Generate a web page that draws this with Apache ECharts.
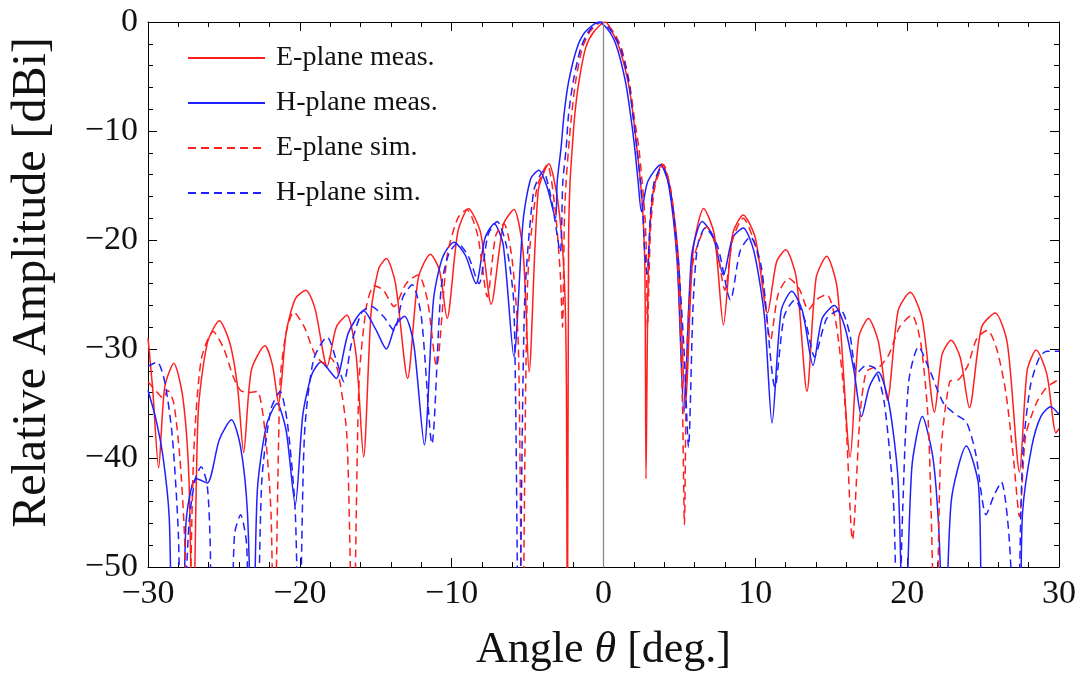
<!DOCTYPE html>
<html>
<head>
<meta charset="utf-8">
<title>E/H-plane radiation patterns</title>
<script src="https://cdn.jsdelivr.net/npm/echarts@6/dist/echarts.min.js"></script>
<style>
  html, body { margin: 0; padding: 0; background: #fff; }
  #chart { width: 1081px; height: 677px; }
</style>
</head>
<body>
<div id="chart"></div>
<script>
// Radiation pattern cuts: [angle in degrees, relative amplitude in dB].
// Values below -50 dB mark nulls that fall off the bottom of the frame.
const eMeas = [
  [-30, -29.0], [-29.7, -33.5], [-29.3, -40.9], [-28.9, -33.5], [-28.3, -31.3],
  [-27.7, -34.5], [-27.3, -42], [-27.05, -60], [-26.7, -36], [-26.1, -29.5],
  [-25.3, -27.4], [-24.6, -29.5], [-24.1, -33.5], [-23.7, -39.5], [-23.2, -32],
  [-22.3, -29.7], [-21.8, -31.5], [-21.4, -35], [-20.9, -28.5], [-20.3, -25.4],
  [-19.6, -24.6], [-19.0, -26.3], [-18.2, -31.6], [-17.6, -28], [-16.9, -26.9],
  [-16.3, -30.5], [-15.8, -39.9], [-15.3, -26.5], [-14.8, -22.6], [-14.3, -21.7],
  [-13.7, -24], [-12.9, -32.7], [-12.2, -23.5], [-11.4, -21.3], [-10.8, -22.8],
  [-10.3, -27.2], [-9.6, -19.3], [-8.9, -17.1], [-8.1, -19.3], [-7.4, -25.9],
  [-6.6, -18.6], [-5.9, -17.2], [-5.3, -21], [-4.9, -32.1], [-4.3, -15.5],
  [-3.6, -13.0], [-3.0, -16.5], [-2.6, -23], [-2.45, -32], [-2.38, -60],
  [-2.3, -20], [-2.2, -14.6], [-2.06, -11.6], [-1.89, -8.5], [-1.62, -5.5],
  [-1.18, -2.4], [-0.64, -0.9], [0.13, 0], [0.57, -0.9], [1.05, -2.4],
  [1.62, -5.5], [1.95, -8.5], [2.2, -11.6], [2.43, -14.6], [2.6, -17.7],
  [2.73, -23], [2.8, -41.9], [2.95, -23], [3.25, -15.8], [3.86, -13.0],
  [4.4, -15.3], [4.95, -22], [5.4, -35.3], [5.9, -21], [6.6, -17.1],
  [7.3, -19.5], [7.9, -27.8], [8.5, -19.5], [9.2, -17.7], [10.0, -19.8],
  [10.8, -26.7], [11.4, -22], [12.0, -20.9], [12.7, -23.5], [13.4, -33.9],
  [14.0, -23.5], [14.7, -21.5], [15.4, -24.5], [16.25, -39.9], [16.8, -29],
  [17.45, -27.2], [18.1, -29.3], [18.7, -34.7], [19.4, -26.5], [20.2, -24.8],
  [21.0, -27.3], [21.8, -35.8], [22.3, -30.5], [22.9, -29.2], [23.5, -30.8],
  [24.1, -35.4], [24.9, -28], [25.8, -26.7], [26.6, -29.5], [27.4, -41.3],
  [27.9, -32], [28.5, -30.1], [29.2, -32.3], [29.8, -37.7], [30, -37.3]
];

const hMeas = [
  [-30, -33.8], [-29.5, -36.3], [-29.0, -40], [-28.6, -45.5], [-28.3, -60],
  [-27.8, -60], [-27.5, -46], [-27.1, -42.5], [-26.8, -41.9], [-26.1, -42.3],
  [-25.3, -38.3], [-24.5, -36.5], [-23.9, -39], [-23.45, -45], [-23.1, -60],
  [-22.8, -43], [-22.2, -37], [-21.5, -35.0], [-20.9, -37.5], [-20.3, -44.3],
  [-19.8, -36], [-19.2, -32.3], [-18.6, -31.2], [-18.1, -31.9], [-17.6, -32.7],
  [-16.8, -28.5], [-15.8, -26.5], [-15.0, -28.2], [-14.3, -30.0], [-13.7, -27.8],
  [-13.1, -27.0], [-12.5, -29.5], [-11.8, -38.8], [-11.2, -25.5], [-10.6, -21.6],
  [-9.85, -20.2], [-9.1, -21.4], [-8.4, -24.0], [-7.8, -19.8], [-7.2, -18.5],
  [-6.6, -20.5], [-5.9, -30.7], [-5.3, -18.3], [-4.8, -14.4], [-4.26, -13.6],
  [-3.7, -15.2], [-3.16, -18.0], [-3.05, -14.65], [-2.8, -11.6], [-2.6, -8.5],
  [-2.3, -5.5], [-1.75, -2.4], [-1.2, -0.9], [-0.3, 0], [0.4, -0.9],
  [0.9, -2.4], [1.45, -5.5], [1.78, -8.5], [2.06, -11.6], [2.28, -14.65],
  [2.5, -17.4], [2.9, -14.7], [3.75, -13.1], [4.3, -15], [4.85, -22],
  [5.3, -35.9], [5.8, -21.5], [6.5, -18.3], [7.2, -19.6], [7.9, -23.2],
  [8.5, -19.8], [9.2, -18.9], [9.9, -21], [10.6, -27], [11.1, -36.8],
  [11.7, -26.5], [12.4, -24.7], [13.1, -26.5], [13.8, -31.5], [14.4, -27.2],
  [15.2, -26.0], [15.9, -28], [16.5, -32], [17.0, -36.2], [17.5, -33.5],
  [18.1, -32.1], [18.8, -35], [19.4, -42], [19.8, -60], [20.3, -41],
  [21.0, -36.2], [21.7, -40], [22.1, -47], [22.45, -60], [22.9, -44],
  [23.9, -38.9], [24.7, -42.5], [25.2, -60], [27.2, -60], [27.6, -45],
  [28.2, -39], [28.8, -36.2], [29.45, -35.3], [30, -36]
];

const eSim = [
  [-30, -33], [-29.5, -33.8], [-29.0, -34.5], [-28.7, -33.8], [-28.3, -35],
  [-27.9, -40], [-27.6, -47], [-27.35, -60], [-27.0, -40], [-26.5, -31],
  [-25.7, -28.4], [-25.0, -30], [-24.4, -32.5], [-23.9, -33.8], [-23.3, -34],
  [-22.8, -33.9], [-22.3, -37.5], [-21.9, -45], [-21.7, -60], [-21.3, -33],
  [-20.9, -28.5], [-20.4, -26.6], [-19.7, -28], [-19.0, -30.5], [-18.4, -31.3],
  [-18.0, -30.8], [-17.5, -32], [-16.9, -38], [-16.5, -60], [-16.1, -33],
  [-15.6, -26], [-15.1, -24.2], [-14.5, -24.6], [-13.8, -26.1], [-13.0, -24],
  [-12.2, -23.2], [-11.6, -25.5], [-11.0, -31.6], [-10.3, -21.5], [-9.6, -18],
  [-9.0, -17.2], [-8.3, -19.5], [-7.65, -25.2], [-7.1, -19.6], [-6.56, -18.5],
  [-6.0, -22], [-5.6, -30], [-5.35, -60], [-5.0, -24], [-4.4, -15.3],
  [-3.7, -13.1], [-3.2, -17], [-2.85, -23], [-2.7, -28], [-2.57, -17.7],
  [-2.46, -14.6], [-2.3, -11.6], [-2.1, -8.5], [-1.84, -5.5], [-1.4, -2.4],
  [-0.85, -0.8], [-0.1, 0], [0.6, -0.8], [1.18, -2.4], [1.7, -5.5],
  [2.0, -8.5], [2.33, -11.6], [2.54, -14.6], [2.72, -17.7], [2.82, -21],
  [2.9, -28], [3.1, -19], [3.4, -15], [3.95, -13.1], [4.5, -16],
  [4.95, -24], [5.2, -35], [5.33, -46.1], [5.5, -30], [5.9, -22],
  [6.8, -18.8], [7.4, -20.5], [8.0, -24.6], [8.5, -20], [9.2, -18.0],
  [10.0, -20.5], [10.5, -24], [11.0, -29.2], [11.5, -25], [12.2, -23.5],
  [12.9, -24.5], [13.5, -26.4], [14.0, -25.5], [14.7, -25.0], [15.3, -27.5],
  [15.9, -35], [16.4, -47.5], [16.9, -36], [17.3, -32.1], [17.8, -31.7],
  [18.2, -31.6], [18.8, -30.5], [19.5, -28], [20.3, -26.9], [20.9, -29.5],
  [21.4, -37], [21.9, -60], [22.2, -40], [22.8, -33], [23.4, -32.8],
  [24.0, -31.5], [24.6, -29], [25.3, -28.3], [25.9, -30], [26.5, -34],
  [27.0, -40], [27.4, -45.4], [27.8, -38], [28.5, -35], [29.2, -33.5],
  [30, -32.8]
];

const hSim = [
  [-30, -31.6], [-29.4, -31.2], [-28.9, -33], [-28.4, -38], [-28.0, -47],
  [-27.8, -60], [-27.3, -46], [-26.9, -42], [-26.5, -40.8], [-26.1, -42.5],
  [-25.9, -48], [-25.75, -60], [-24.7, -60], [-24.3, -47], [-23.9, -45.2],
  [-23.5, -48], [-23.3, -60], [-22.9, -60], [-22.5, -42], [-21.9, -35.5],
  [-21.3, -33.9], [-20.8, -37], [-20.3, -45], [-20.05, -60], [-19.7, -38],
  [-19.1, -31], [-18.2, -28.9], [-17.6, -31], [-17.1, -33], [-16.6, -29.5],
  [-15.9, -26.6], [-15.3, -26.1], [-14.5, -27], [-13.8, -28.3], [-13.2, -25.2],
  [-12.6, -24.1], [-12.0, -27], [-11.3, -38.7], [-10.7, -24.5], [-10.2, -21.3],
  [-9.6, -20.3], [-8.9, -21.5], [-8.2, -24.0], [-7.6, -19.5], [-7.0, -18.3],
  [-6.4, -20.5], [-5.9, -26], [-5.57, -60], [-5.2, -26], [-4.6, -15.5],
  [-3.97, -13.7], [-3.4, -16.5], [-2.85, -21.1], [-2.68, -14.65], [-2.46, -11.6],
  [-2.3, -8.5], [-2.0, -5.5], [-1.5, -2.4], [-0.95, -0.8], [-0.2, 0],
  [0.5, -0.8], [1.12, -2.4], [1.66, -5.5], [1.93, -8.5], [2.2, -11.6],
  [2.43, -14.65], [2.6, -17.7], [2.7, -20.8], [2.87, -23.1], [3.1, -17.5],
  [3.35, -14.6], [3.86, -13.3], [4.4, -15.5], [4.9, -21.5], [5.3, -30],
  [5.6, -39], [5.9, -26], [6.2, -20.5], [6.7, -18.9], [7.5, -20.5],
  [8.36, -25.5], [9.0, -21], [9.67, -19.7], [10.4, -22.5], [11.3, -33.5],
  [11.9, -27], [12.6, -25.5], [13.3, -27.5], [13.9, -30.7], [14.7, -27.2],
  [15.6, -26.4], [16.2, -28.5], [16.7, -32.2], [17.3, -31.5], [17.9, -31.8],
  [18.5, -35], [19.1, -44], [19.4, -60], [19.7, -45], [20.1, -33],
  [20.75, -29.8], [21.5, -32], [22.4, -35], [23.2, -36], [23.9, -36.7],
  [24.5, -39.5], [25.2, -45.2], [25.7, -43.5], [26.2, -42.2], [26.7, -47],
  [27.2, -60], [27.6, -40], [28.1, -33.5], [28.7, -30.8], [29.2, -30.2],
  [30, -30.2]
];

const seriesNames = ['E-plane meas.', 'H-plane meas.', 'E-plane sim.', 'H-plane sim.'];
const xTicks = { min: -30, max: 30, step: 10 };
const yTicks = { min: -50, max: 0, step: 10 };

const SERIF = '"Liberation Serif", "DejaVu Serif", "Times New Roman", serif';
const RED = '#ff1f1f';
const BLUE = '#1f1fff';
const DASH = [8, 5];

// Typeset minus sign for negative tick values
const fmt = v => (v < 0 ? '\u2212' + Math.abs(v) : String(v));

const tickStyle = { show: true, inside: true, length: 9, lineStyle: { color: '#000', width: 1 } };
const minorStyle = { show: true, splitNumber: 5, length: 5, lineStyle: { color: '#000', width: 1 } };
const lineAxis = { show: true, onZero: false, lineStyle: { color: '#000', width: 1 } };

function frameAxis(base, extra) {
  return Object.assign({
    type: 'value',
    min: base.min, max: base.max, interval: base.step,
    axisLine: lineAxis, axisTick: tickStyle, minorTick: minorStyle,
    splitLine: { show: false }, minorSplitLine: { show: false }
  }, extra);
}

function curve(name, data, color, dashed) {
  return {
    name, type: 'line', data,
    xAxisIndex: 0, yAxisIndex: 0,
    symbol: 'none', showSymbol: false,
    smooth: 0.25, clip: true,
    lineStyle: { color, width: 1.5, type: dashed ? DASH : 'solid' },
    itemStyle: { color },
    emphasis: { disabled: true },
    animation: false
  };
}

const chart = echarts.init(document.getElementById('chart'), null, { renderer: 'canvas' });

const series = [
  curve(seriesNames[0], eMeas, RED, false),
  curve(seriesNames[1], hMeas, BLUE, false),
  curve(seriesNames[2], eSim, RED, true),
  curve(seriesNames[3], hSim, BLUE, true)
];
// Boresight reference line at 0°
series[0].markLine = {
  silent: true, symbol: 'none', animation: false,
  label: { show: false },
  lineStyle: { color: '#8a8a8a', width: 1.3, type: 'solid' },
  data: [{ xAxis: 0 }]
};

chart.setOption({
  backgroundColor: '#fff',
  animation: false,
  grid: { left: 147, right: 22, top: 22, bottom: 110, containLabel: false },
  legend: {
    data: seriesNames,
    orient: 'vertical',
    left: 182, top: 38,
    itemWidth: 77, itemHeight: 14, itemGap: 15,
    selectedMode: false,
    // line-only keys: hide the marker drawn in the middle of each key
    itemStyle: { opacity: 0 },
    textStyle: { fontFamily: SERIF, fontSize: 28, color: '#111', lineHeight: 30, padding: [0, 0, 0, 6] }
  },
  xAxis: [
    frameAxis(xTicks, {
      position: 'bottom',
      axisLabel: { fontFamily: SERIF, fontSize: 34, color: '#111', margin: 10, formatter: fmt },
      name: '{a|Angle }{t|\u03b8}{a| [deg.]}',
      nameLocation: 'middle', nameGap: 58,
      nameTextStyle: {
        rich: {
          a: { fontFamily: SERIF, fontSize: 44, color: '#111', lineHeight: 50 },
          t: { fontFamily: SERIF, fontSize: 44, fontStyle: 'italic', color: '#111', lineHeight: 50 }
        }
      }
    }),
    frameAxis(xTicks, { position: 'top', axisLabel: { show: false } })
  ],
  yAxis: [
    frameAxis(yTicks, {
      position: 'left',
      axisLabel: { fontFamily: SERIF, fontSize: 34, color: '#111', margin: 10, formatter: fmt },
      name: 'Relative Amplitude [dBi]',
      nameLocation: 'middle', nameRotate: 90, nameGap: 92,
      nameTextStyle: { fontFamily: SERIF, fontSize: 48, color: '#111', padding: [0, 0, 0, 24] }
    }),
    frameAxis(yTicks, { position: 'right', axisLabel: { show: false } })
  ],
  series
});
</script>
</body>
</html>
